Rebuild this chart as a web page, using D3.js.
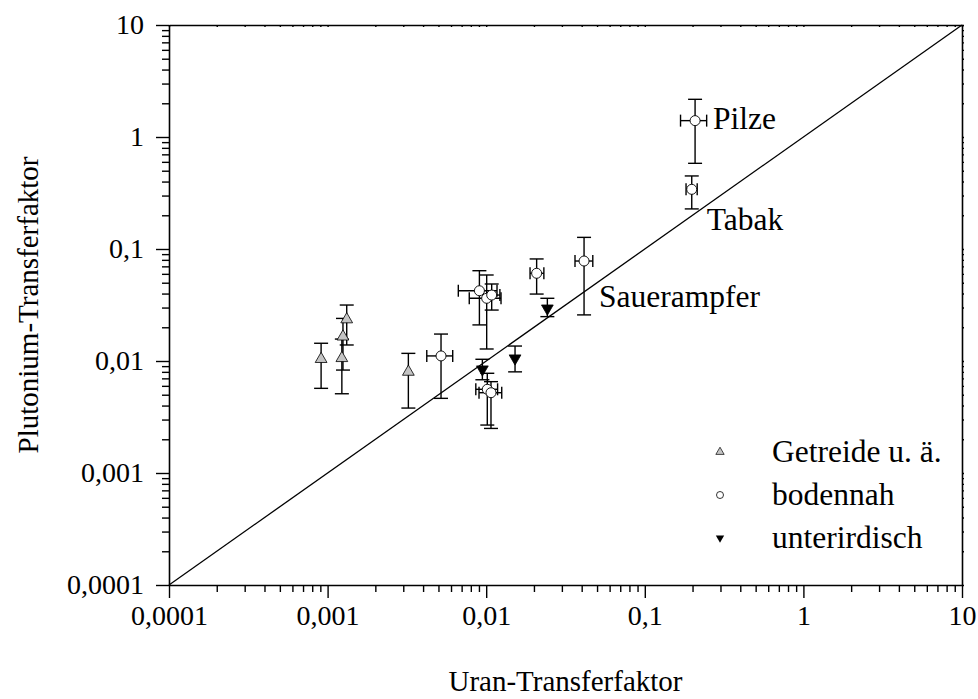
<!DOCTYPE html>
<html><head><meta charset="utf-8">
<script src="https://cdn.jsdelivr.net/npm/d3@7"></script>
<style>body{margin:0;background:#fff}svg{display:block}text{font-family:"Liberation Serif","DejaVu Serif",serif;fill:#000}</style>
</head><body><svg id="c" width="978" height="699"></svg>
<script>
// ---- data ----
const tickValues = [0.0001, 0.001, 0.01, 0.1, 1, 10];
const tickLabels = ["0,0001", "0,001", "0,01", "0,1", "1", "10"];
const xTitle = "Uran-Transferfaktor";
const yTitle = "Plutonium-Transferfaktor";
const seriesNames = ["Getreide u. ä.", "bodennah", "unterirdisch"];

// Getreide u. ä. (triangle up, grey)
const getX   = [0.00091, 0.00132, 0.00125, 0.00123, 0.00323];
const getY   = [0.0104, 0.0235, 0.0165, 0.0106, 0.0080];
const getYlo = [0.0057, 0.0139, 0.0083, 0.0051, 0.0038];
const getYhi = [0.0144, 0.0316, 0.024, 0.0157, 0.0117];

// bodennah (open circle)
const bodX   = [0.00519, 0.00906, 0.01007, 0.01083, 0.01016, 0.01072, 0.0208, 0.0414, 0.1977, 0.2075];
const bodXlo = [0.00422, 0.00667, 0.00782, 0.0096, 0.0086, 0.00901, 0.0189, 0.0363, 0.182, 0.168];
const bodXhi = [0.00615, 0.0117, 0.0124, 0.0122, 0.0118, 0.01253, 0.0231, 0.047, 0.214, 0.2455];
const bodY   = [0.0111, 0.0424, 0.0363, 0.0388, 0.00559, 0.00521, 0.0607, 0.0781, 0.341, 1.40];
const bodYlo = [0.00464, 0.021, 0.0128, 0.0285, 0.00268, 0.0025, 0.0396, 0.0258, 0.228, 0.582];
const bodYhi = [0.0174, 0.064, 0.0586, 0.0487, 0.00777, 0.00654, 0.0815, 0.127, 0.449, 2.17];

// unterirdisch (triangle down, black)
const untX   = [0.00946, 0.0152, 0.0243];
const untY   = [0.00843, 0.01057, 0.0295];
const untYlo = [0.0068, 0.0080, 0.0249];
const untYhi = [0.01036, 0.0136, 0.0363];

// point labels
const labelNames = ["Sauerampfer", "Tabak", "Pilze"];
const labelIdx   = [7, 8, 9];   // index into bodennah
const labelDx    = [15, 15, 18];
const labelDy    = [46, 41, 8];

// ---- chart ----
const svg = d3.select("#c");
const L = 169, R = 962, T = 25, B = 585;
const x = d3.scaleLog().domain([1e-4, 10]).range([L, R]);
const y = d3.scaleLog().domain([1e-4, 10]).range([B, T]);
const FS_TICK = 28, FS_TITLE = 29, FS_LAB = 31.5;

const minor = [];
for (let e = -4; e < 1; e++) for (let m = 2; m <= 9; m++) minor.push(m * Math.pow(10, e));

function styleAxis(g){ g.select(".domain").attr("stroke","#000").attr("stroke-width",1.6);
  g.selectAll("line").attr("stroke","#000").attr("stroke-width",1.4); }

// bottom
const bx = svg.append("g").attr("transform",`translate(0,${B})`)
  .call(d3.axisBottom(x).tickValues(tickValues).tickFormat((d,i)=>tickLabels[i]).tickSize(13).tickSizeOuter(0).tickPadding(7));
bx.selectAll("text").attr("font-size",FS_TICK).attr("font-family","Liberation Serif");
styleAxis(bx);
const bxm = svg.append("g").attr("transform",`translate(0,${B})`)
  .call(d3.axisBottom(x).tickValues(minor).tickFormat("").tickSize(7).tickSizeOuter(0));
styleAxis(bxm); bxm.select(".domain").remove();
// left
const ly = svg.append("g").attr("transform",`translate(${L},0)`)
  .call(d3.axisLeft(y).tickValues(tickValues).tickFormat((d,i)=>tickLabels[i]).tickSize(13).tickSizeOuter(0).tickPadding(12));
ly.selectAll("text").attr("font-size",FS_TICK).attr("font-family","Liberation Serif");
styleAxis(ly);
const lym = svg.append("g").attr("transform",`translate(${L},0)`)
  .call(d3.axisLeft(y).tickValues(minor).tickFormat("").tickSize(7).tickSizeOuter(0));
styleAxis(lym); lym.select(".domain").remove();
// top
const tx = svg.append("g").attr("transform",`translate(0,${T})`)
  .call(d3.axisBottom(x).tickValues(minor.concat(tickValues)).tickFormat("").tickSize(2).tickSizeOuter(0));
styleAxis(tx);
// right
const ry = svg.append("g").attr("transform",`translate(${R},0)`)
  .call(d3.axisRight(y).tickValues(minor.concat(tickValues)).tickFormat("").tickSize(2).tickSizeOuter(0));
styleAxis(ry);

// diagonal
svg.append("line").attr("x1",x(1e-4)).attr("y1",y(1e-4)).attr("x2",x(10)).attr("y2",y(10))
  .attr("stroke","#000").attr("stroke-width",1.3);

// titles
svg.append("text").attr("x",(L+R)/2).attr("y",691).attr("text-anchor","middle").attr("font-size",FS_TITLE).text(xTitle);
svg.append("text").attr("transform",`translate(38,${(T+B)/2}) rotate(-90)`).attr("text-anchor","middle").attr("font-size",FS_TITLE).text(yTitle);

const eb = svg.append("g").attr("stroke","#000").attr("stroke-width",1.4).attr("fill","none");
const CAP = 7;
function vErr(xv, lo, hi){
  const px = x(xv);
  eb.append("line").attr("x1",px).attr("x2",px).attr("y1",y(lo)).attr("y2",y(hi));
  eb.append("line").attr("x1",px-CAP).attr("x2",px+CAP).attr("y1",y(lo)).attr("y2",y(lo));
  eb.append("line").attr("x1",px-CAP).attr("x2",px+CAP).attr("y1",y(hi)).attr("y2",y(hi));
}
function hErr(yv, lo, hi){
  const py = y(yv);
  eb.append("line").attr("y1",py).attr("y2",py).attr("x1",x(lo)).attr("x2",x(hi));
  eb.append("line").attr("y1",py-6).attr("y2",py+6).attr("x1",x(lo)).attr("x2",x(lo));
  eb.append("line").attr("y1",py-6).attr("y2",py+6).attr("x1",x(hi)).attr("x2",x(hi));
}
getX.forEach((v,i)=>vErr(v,getYlo[i],getYhi[i]));
untX.forEach((v,i)=>vErr(v,untYlo[i],untYhi[i]));
bodX.forEach((v,i)=>{vErr(v,bodYlo[i],bodYhi[i]); hErr(bodY[i],bodXlo[i],bodXhi[i]);});

const triUp = d3.symbol().type(d3.symbolTriangle).size(60);
const mk = svg.append("g");
getX.forEach((v,i)=>mk.append("path").attr("d",triUp()).attr("transform",`translate(${x(v)},${y(getY[i])})`)
  .attr("fill","#c4c4c4").attr("stroke","#000").attr("stroke-width",0.8));
untX.forEach((v,i)=>mk.append("path").attr("d",triUp()).attr("transform",`translate(${x(v)},${y(untY[i])}) rotate(180)`)
  .attr("fill","#000").attr("stroke","#000").attr("stroke-width",0.8));
bodX.forEach((v,i)=>mk.append("circle").attr("cx",x(v)).attr("cy",y(bodY[i])).attr("r",5)
  .attr("fill","#fff").attr("stroke","#000").attr("stroke-width",0.9));

labelNames.forEach((t,i)=>{
  const k = labelIdx[i];
  svg.append("text").attr("x",x(bodX[k])+labelDx[i]).attr("y",y(bodY[k])+labelDy[i]).attr("font-size",FS_LAB).text(t);
});

// legend
const legY = [452, 495, 538];
const lg = svg.append("g");
seriesNames.forEach((n,i)=>{
  lg.append("text").attr("x",772).attr("y",legY[i]+10).attr("font-size",FS_LAB).text(n);
});
const triS = d3.symbol().type(d3.symbolTriangle).size(30);
lg.append("path").attr("d",triS()).attr("transform",`translate(720,${legY[0]})`).attr("fill","#c4c4c4").attr("stroke","#000").attr("stroke-width",0.7);
lg.append("circle").attr("cx",720).attr("cy",legY[1]).attr("r",3.5).attr("fill","#fff").attr("stroke","#000").attr("stroke-width",0.8);
lg.append("path").attr("d",triS()).attr("transform",`translate(720,${legY[2]}) rotate(180)`).attr("fill","#000");
</script></body></html>
